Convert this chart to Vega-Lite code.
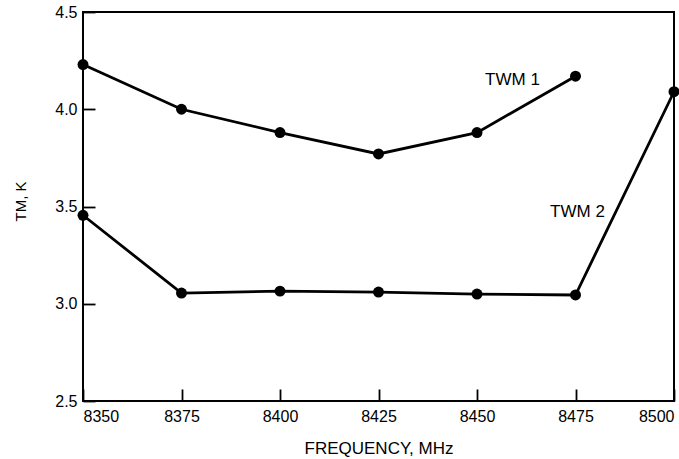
{
  "$schema": "https://vega.github.io/schema/vega-lite/v6.json",
  "width": 591,
  "height": 389,
  "autosize": "none",
  "padding": {"left": 83, "top": 12, "right": 5, "bottom": 58},
  "background": "white",
  "config": {
    "font": "Liberation Sans",
    "view": {"stroke": "black", "strokeWidth": 2},
    "axis": {
      "labelColor": "black",
      "labelFontSize": 16,
      "labelFont": "Liberation Sans",
      "titleColor": "black",
      "titleFontWeight": "normal",
      "titleFont": "Liberation Sans"
    }
  },
  "datasets": {
    "pts": [
      {"series": "TWM 1", "freq": 8350, "tm": 4.23},
      {"series": "TWM 1", "freq": 8375, "tm": 4.0},
      {"series": "TWM 1", "freq": 8400, "tm": 3.88},
      {"series": "TWM 1", "freq": 8425, "tm": 3.77},
      {"series": "TWM 1", "freq": 8450, "tm": 3.88},
      {"series": "TWM 1", "freq": 8475, "tm": 4.17},
      {"series": "TWM 2", "freq": 8350, "tm": 3.455},
      {"series": "TWM 2", "freq": 8375, "tm": 3.055},
      {"series": "TWM 2", "freq": 8400, "tm": 3.065},
      {"series": "TWM 2", "freq": 8425, "tm": 3.06},
      {"series": "TWM 2", "freq": 8450, "tm": 3.05},
      {"series": "TWM 2", "freq": 8475, "tm": 3.045},
      {"series": "TWM 2", "freq": 8500, "tm": 4.09}
    ],
    "labels": [
      {"label": "TWM 1", "freq": 8459, "tm": 4.15},
      {"label": "TWM 2", "freq": 8475.5, "tm": 3.47}
    ]
  },
  "encoding": {
    "x": {
      "field": "freq", "type": "quantitative",
      "scale": {"domain": [8350, 8500], "nice": false, "zero": false},
      "axis": {"orient": "bottom", "grid": false, "offset": -12, "domain": false, "ticks": true, "tickColor": "black", "tickWidth": 1.8, "tickSize": 12, "values": [8350, 8375, 8400, 8425, 8450, 8475, 8500], "format": "d", "labelFlush": true, "labelPadding": 7, "title": "FREQUENCY, MHz", "titleFontSize": 17, "titleBaseline": "middle", "titleY": 59}
    },
    "y": {
      "field": "tm", "type": "quantitative",
      "scale": {"domain": [2.5, 4.5], "nice": false, "zero": false},
      "axis": {"orient": "left", "grid": false, "offset": -12, "domain": false, "ticks": true, "tickColor": "black", "tickWidth": 1.8, "tickSize": 12, "values": [2.5, 3.0, 3.5, 4.0, 4.5], "format": ".1f", "labelPadding": 6, "title": "TM, K", "titleFontSize": 15, "titleAngle": -90, "titleBaseline": "middle", "titleAlign": "center", "titleX": -75, "titleY": 189}
    }
  },
  "layer": [
    {
      "data": {"name": "pts"},
      "mark": {"type": "line", "color": "black", "strokeWidth": 2.8},
      "encoding": {"detail": {"field": "series"}}
    },
    {
      "data": {"name": "pts"},
      "mark": {"type": "circle", "color": "black", "opacity": 1, "size": 120}
    },
    {
      "data": {"name": "labels"},
      "mark": {"type": "text", "color": "black", "fontSize": 17, "font": "Liberation Sans"},
      "encoding": {"text": {"field": "label"}}
    }
  ]
}
